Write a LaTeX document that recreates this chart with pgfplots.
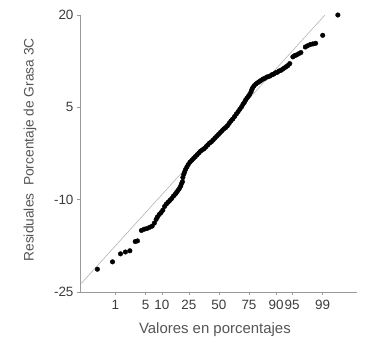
\documentclass[border=0pt]{standalone}
\usepackage{fontspec}
\setmainfont{Liberation Sans}
\usepackage{pgfplots}
\pgfplotsset{compat=1.18}

\definecolor{axisgray}{HTML}{9A9A9A}
\definecolor{refgray}{HTML}{B4B4B4}
\definecolor{labelgray}{HTML}{555555}
\definecolor{tickgray}{HTML}{3C3C3C}

\begin{document}
\begin{tikzpicture}
\path[use as bounding box] (-80bp,-58bp) rectangle (285bp,292bp);
\begin{axis}[
  at={(0,0)}, anchor=south west,
  scale only axis, width=277bp, height=277bp,
  xmin=-3.12, xmax=3.1, ymin=-25, ymax=20,
  axis x line*=bottom, axis y line*=left,
  axis line style={axisgray, line width=0.8pt},
  xtick={-2.326,-1.645,-1.2816,-0.6745,0,0.6745,1.2816,1.645,2.326},
  xticklabels={1,5,10,25,50,75,90,95,99},
  ytick={-25,-10,5,20},
  tick align=outside, major tick length=3bp,
  tick style={axisgray, line width=0.6pt},
  /pgf/number format/assume math mode=true,
  tick label style={font=\fontsize{13.5}{15}\selectfont, text=tickgray},
  xticklabel style={yshift=-2bp},
  xlabel={Valores en porcentajes},
  ylabel={Residuales\ \ Porcentaje de Grasa 3C},
  xlabel style={font=\fontsize{15}{17}\selectfont, text=labelgray,
    at={(axis description cs:0.487,-0.135)}, anchor=center},
  ylabel style={font=\fontsize{13.8}{16}\selectfont, text=labelgray,
    at={(axis description cs:-0.18,0.513)}, anchor=center},
  clip=false,
]
% reference line of the normal distribution
\addplot[refgray, line width=0.6pt] coordinates {(-3.09,-23.6) (2.38,20)};
% ordered residuals against normal quantiles
\addplot[only marks, mark=*, mark size=2.3bp, black] coordinates {
(-2.73,-21.3) (-2.39,-20.1) (-2.21,-18.8) (-2.10,-18.5) (-2.00,-18.3)
(-1.88,-16.8) (-1.83,-16.7) (-1.74,-15.0) (-1.68,-14.8) (-1.62,-14.7)
(-1.56,-14.5) (-1.50,-14.3) (-1.45,-13.8) (-1.41,-13.2) (-1.38,-12.8)
(-1.34,-12.4) (-1.30,-12.1) (-1.26,-11.7) (-1.22,-11.1) (-1.18,-10.7)
(-1.14,-10.4) (-1.10,-10.1) (-1.06,-9.8) (-1.02,-9.4) (-0.98,-9.1)
(-0.95,-8.8) (-0.92,-8.5) (-0.89,-8.2) (-0.86,-7.8) (-0.84,-7.4)
(-0.82,-7.1) (-0.81,-6.4) (-0.79,-5.9) (-0.77,-5.5) (-0.75,-5.1)
(-0.72,-4.7) (-0.69,-4.3) (-0.65,-3.9) (-0.61,-3.6) (-0.57,-3.3)
(-0.53,-3.0) (-0.49,-2.7) (-0.45,-2.4) (-0.41,-2.1) (-0.37,-1.9)
(-0.33,-1.7) (-0.29,-1.4) (-0.25,-1.1) (-0.21,-0.8) (-0.17,-0.6)
(-0.13,-0.3) (-0.09,0.0) (-0.05,0.3) (-0.01,0.6) (0.03,0.9)
(0.07,1.2) (0.11,1.5) (0.15,1.7) (0.19,2.0) (0.23,2.4)
(0.27,2.8) (0.31,3.1) (0.35,3.5) (0.39,3.9) (0.43,4.3)
(0.47,4.7) (0.51,5.1) (0.54,5.5) (0.57,5.8) (0.60,6.2)
(0.63,6.5) (0.66,6.8) (0.69,7.1) (0.72,7.5) (0.74,7.9)
(0.76,8.2) (0.79,8.5) (0.83,8.8) (0.87,9.0) (0.91,9.2)
(0.95,9.4) (0.99,9.6) (1.03,9.7) (1.07,9.9) (1.11,10.0)
(1.15,10.1) (1.19,10.3) (1.23,10.4) (1.27,10.6) (1.31,10.7)
(1.35,10.9) (1.39,11.0) (1.43,11.2) (1.47,11.4) (1.51,11.6)
(1.55,11.8) (1.59,12.1) (1.66,13.2) (1.70,13.4) (1.74,13.5)
(1.79,13.7) (1.84,13.9) (1.94,14.8) (1.99,15.0) (2.05,15.2)
(2.11,15.3) (2.17,15.4) (2.33,16.7) (2.67,20.0)
};
\end{axis}
\end{tikzpicture}
\end{document}
